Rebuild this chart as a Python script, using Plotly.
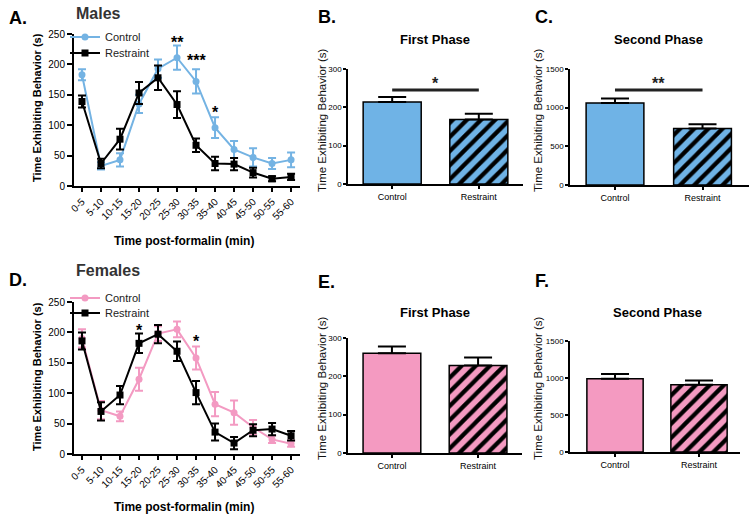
import plotly.graph_objects as go

W, H = 754, 515
FONT = "Arial, Liberation Sans, sans-serif"

# ---------------- data ----------------
time_bins = ["0-5", "5-10", "10-15", "15-20", "20-25", "25-30", "30-35",
             "35-40", "40-45", "45-50", "50-55", "55-60"]

male_control = [183, 33, 43, 135, 193, 211, 172, 96, 60, 47, 37, 43]
male_control_err = [9, 6, 11, 15, 15, 20, 20, 17, 14, 15, 9, 12]
male_restraint = [139, 37, 77, 153, 178, 134, 67, 37, 36, 22, 12, 15]
male_restraint_err = [10, 8, 17, 18, 20, 22, 11, 11, 10, 8, 4, 5]

female_control = [190, 72, 62, 123, 198, 205, 158, 82, 68, 44, 24, 17]
female_control_err = [15, 15, 8, 19, 12, 13, 19, 20, 20, 12, 6, 5]
female_restraint = [186, 70, 97, 182, 197, 169, 101, 36, 18, 39, 41, 30]
female_restraint_err = [14, 15, 15, 16, 15, 16, 19, 14, 10, 10, 10, 8]

male_sig = [(5, "**", 243), (6, "***", 213), (7, "*", 128)]
female_sig = [(3, "*", 210), (6, "*", 192)]

groups = ["Control", "Restraint"]
male_first = [214, 168]
male_first_err = [13, 15]
male_second = [1060, 730]
male_second_err = [60, 55]
female_first = [260, 228]
female_first_err = [18, 21]
female_second = [990, 910]
female_second_err = [65, 55]

male_first_sig = ("*", 245)
male_second_sig = ("**", 1228)

BLUE = "#74B3E3"
PINK = "#F39AC2"
BLUE_BAR = "#6FB3E6"
PINK_BAR = "#F49AC1"


def px_x(p):
    return p / W


def px_y(p):
    return 1 - p / H


fig = go.Figure()

# ---------------- line charts ----------------
idx = list(range(len(time_bins)))


def add_lines(ctrl, ctrl_err, rest, rest_err, color, xa, ya, leg_c, leg_r):
    fig.add_trace(go.Scatter(
        x=idx, y=ctrl, mode="lines+markers", name="Control",
        line=dict(color=color, width=2),
        marker=dict(symbol="circle", size=7, color=color),
        error_y=dict(type="data", array=ctrl_err, color=color, thickness=2, width=4),
        xaxis=xa, yaxis=ya, legend=leg_c, cliponaxis=False))
    fig.add_trace(go.Scatter(
        x=idx, y=rest, mode="lines+markers", name="Restraint",
        line=dict(color="black", width=2),
        marker=dict(symbol="square", size=7, color="black"),
        error_y=dict(type="data", array=rest_err, color="black", thickness=2, width=4),
        xaxis=xa, yaxis=ya, legend=leg_r, cliponaxis=False))


add_lines(male_control, male_control_err, male_restraint, male_restraint_err,
          BLUE, "x", "y", "legend", "legend2")
add_lines(female_control, female_control_err, female_restraint, female_restraint_err,
          PINK, "x4", "y4", "legend3", "legend4")


# ---------------- bar charts ----------------
def add_bars(vals, errs, color, xa, ya, width):
    fig.add_trace(go.Bar(
        x=[0], y=[vals[0]], width=width, showlegend=False,
        marker=dict(color=color, line=dict(color="black", width=1.5)),
        error_y=dict(type="data", array=[errs[0]], arrayminus=[0], symmetric=False,
                     color="black", thickness=2, width=14),
        xaxis=xa, yaxis=ya))
    fig.add_trace(go.Bar(
        x=[1], y=[vals[1]], width=width, showlegend=False,
        marker=dict(color=color, line=dict(color="black", width=1.5),
                    pattern=dict(shape="/", fgcolor="black", bgcolor=color,
                                 size=10, solidity=0.42, fillmode="replace")),
        error_y=dict(type="data", array=[errs[1]], arrayminus=[0], symmetric=False,
                     color="black", thickness=2, width=14),
        xaxis=xa, yaxis=ya))


add_bars(male_first, male_first_err, BLUE_BAR, "x2", "y2", 0.67)
add_bars(male_second, male_second_err, BLUE_BAR, "x3", "y3", 0.66)
add_bars(female_first, female_first_err, PINK_BAR, "x5", "y5", 0.67)
add_bars(female_second, female_second_err, PINK_BAR, "x6", "y6", 0.67)

# ---------------- axes ----------------
line_ax = dict(showline=True, linecolor="black", linewidth=2, ticks="outside",
               tickcolor="black", tickwidth=2, ticklen=5, showgrid=False,
               zeroline=False, mirror=False, automargin=False)

xline = dict(line_ax, tickvals=idx, ticktext=time_bins, tickangle=-45,
             range=[-0.42, 11.47], tickfont=dict(size=10, family=FONT, color="black"),
             ticklen=4)
yline = dict(line_ax, range=[0, 250], dtick=50, tick0=0,
             tickfont=dict(size=10, family=FONT, color="black"))

bar_ax = dict(showline=True, linecolor="black", linewidth=1.5, ticks="outside",
              tickcolor="black", tickwidth=1.5, ticklen=3, showgrid=False,
              zeroline=False, automargin=False)
xbar = dict(bar_ax, tickvals=[0, 1], ticktext=groups,
            tickfont=dict(size=9, family=FONT, color="black"))
ybar = dict(bar_ax, tickfont=dict(size=8, family=FONT, color="black"))

fig.update_layout(
    xaxis=dict(xline, domain=[px_x(74), px_x(300)], anchor="y"),
    yaxis=dict(yline, domain=[px_y(186), px_y(34)], anchor="x"),
    xaxis4=dict(xline, domain=[px_x(74), px_x(300)], anchor="y4"),
    yaxis4=dict(yline, domain=[px_y(454), px_y(302)], anchor="x4"),
    xaxis2=dict(xbar, domain=[px_x(348), px_x(523)], range=[-0.51, 1.51], anchor="y2"),
    yaxis2=dict(ybar, domain=[px_y(184), px_y(69)], range=[0, 300], dtick=100, anchor="x2"),
    xaxis3=dict(xbar, domain=[px_x(570), px_x(749)], range=[-0.514, 1.531], anchor="y3"),
    yaxis3=dict(ybar, domain=[px_y(185), px_y(69)], range=[0, 1500], dtick=500, anchor="x3"),
    xaxis5=dict(xbar, domain=[px_x(348), px_x(522)], range=[-0.51, 1.51], anchor="y5"),
    yaxis5=dict(ybar, domain=[px_y(453), px_y(338)], range=[0, 300], dtick=100, anchor="x5"),
    xaxis6=dict(xbar, domain=[px_x(570), px_x(740)], range=[-0.536, 1.488], anchor="y6"),
    yaxis6=dict(ybar, domain=[px_y(452), px_y(341)], range=[0, 1500], dtick=500, anchor="x6"),
)

# ---------------- legends ----------------
leg = dict(xanchor="left", yanchor="middle", bgcolor="rgba(0,0,0,0)",
           font=dict(size=11, family=FONT, color="#222"), itemwidth=30,
           tracegroupgap=0, itemclick=False, itemdoubleclick=False)
fig.update_layout(
    legend=dict(leg, x=px_x(65), y=px_y(37)),
    legend2=dict(leg, x=px_x(65), y=px_y(53)),
    legend3=dict(leg, x=px_x(65), y=px_y(298)),
    legend4=dict(leg, x=px_x(65), y=px_y(313)),
)

# ---------------- annotations ----------------
ann = []


def text(x, y, s, size, bold=True, color="black", xanchor="left", angle=0,
         yanchor="middle"):
    ann.append(dict(x=px_x(x), y=px_y(y), xref="paper", yref="paper", text=(
        f"<b>{s}</b>" if bold else s), showarrow=False, xanchor=xanchor,
        yanchor=yanchor, textangle=angle,
        font=dict(size=size, family=FONT, color=color)))


# panel letters and titles
text(7, 18, "A.", 18)
text(74, 13, "Males", 16, color="#333333")
text(316, 17, "B.", 18)
text(533, 17, "C.", 18)
text(7, 280, "D.", 18)
text(74, 270, "Females", 16, color="#333333")
text(316, 282, "E.", 18)
text(533, 281, "F.", 18)

text(435, 40, "First Phase", 13, xanchor="center")
text(658, 40, "Second Phase", 13, xanchor="center")
text(435, 312, "First Phase", 13, xanchor="center")
text(657, 312, "Second Phase", 13, xanchor="center")

# axis titles
text(37, 108, "Time Exhibiting Behavior (s)", 11, xanchor="center", angle=-90)
text(37, 377, "Time Exhibiting Behavior (s)", 11, xanchor="center", angle=-90)
text(184, 241, "Time post-formalin (min)", 12, xanchor="center")
text(184, 516, "Time post-formalin (min)", 12, xanchor="center", yanchor="bottom")
for xx, yy in [(322, 120), (538, 120), (322, 388), (538, 388)]:
    text(xx, yy, "Time Exhibiting Behavior (s)", 11.5, bold=False,
         xanchor="center", angle=-90, color="#111")

# significance stars on line charts
for i, s, v in male_sig:
    ann.append(dict(x=i, y=v, xref="x", yref="y", text=f"<b>{s}</b>", showarrow=False,
                    xanchor="center", yanchor="middle", yshift=-4,
                    font=dict(size=16, family=FONT, color="black")))
for i, s, v in female_sig:
    ann.append(dict(x=i, y=v, xref="x4", yref="y4", text=f"<b>{s}</b>", showarrow=False,
                    xanchor="center", yanchor="middle", yshift=-4,
                    font=dict(size=16, family=FONT, color="black")))

# significance bars on bar charts
shapes = []
for (s, v), xa, ya in [(male_first_sig, "x2", "y2"), (male_second_sig, "x3", "y3")]:
    shapes.append(dict(type="line", xref=xa, yref=ya, x0=0, x1=1, y0=v, y1=v,
                       line=dict(color="#222", width=3)))
    ann.append(dict(x=0.5, y=v, xref=xa, yref=ya, text=f"<b>{s}</b>", showarrow=False,
                    xanchor="center", yanchor="bottom", yshift=-4,
                    font=dict(size=16, family=FONT, color="#222")))

fig.update_layout(
    template="none",
    annotations=ann, shapes=shapes,
    width=W, height=H,
    margin=dict(l=0, r=0, t=0, b=0, pad=0, autoexpand=False),
    paper_bgcolor="white", plot_bgcolor="white",
    font=dict(family=FONT, color="black"),
    barmode="overlay",
)

fig.write_html("out.html",
               config={"displayModeBar": False},
               post_script="document.body.style.margin='0';document.body.style.overflow='hidden';")
